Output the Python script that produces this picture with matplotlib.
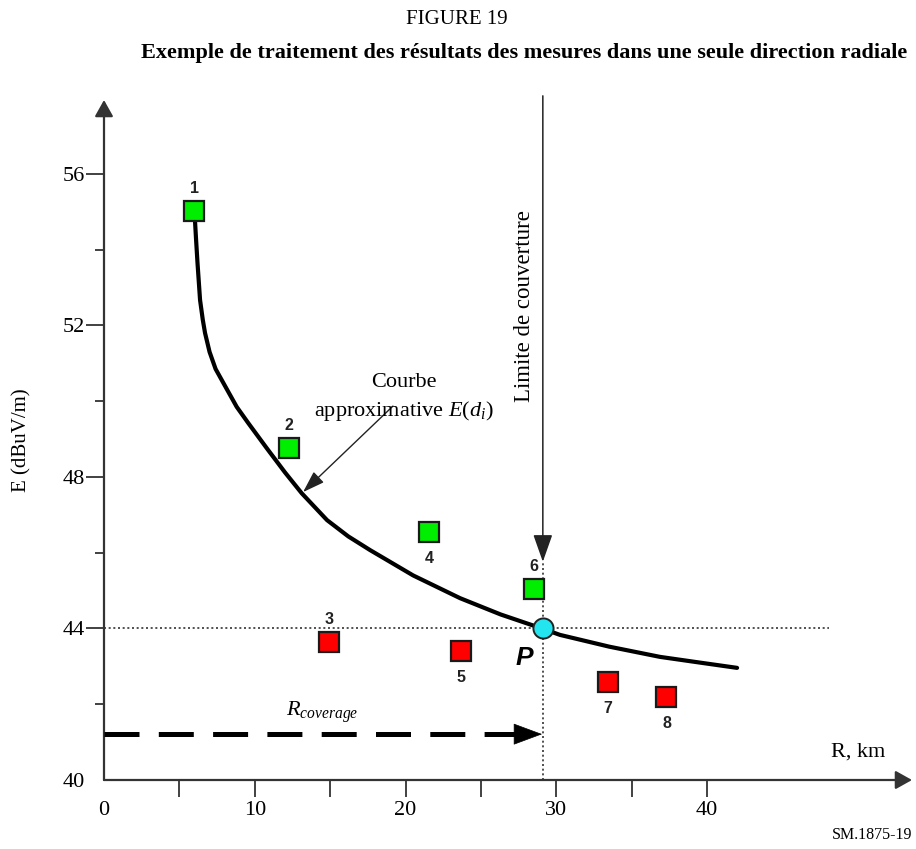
import matplotlib
matplotlib.use("Agg")
import matplotlib.pyplot as plt
from matplotlib.ticker import FixedLocator

plt.rcParams['font.family'] = ['Liberation Serif', 'DejaVu Serif']
plt.rcParams['mathtext.fontset'] = 'custom'
plt.rcParams['mathtext.rm'] = 'Liberation Serif'
plt.rcParams['mathtext.it'] = 'Liberation Serif:italic'

# ---- data ----
point_ids = ['1', '2', '3', '4', '5', '6', '7', '8']
point_R = [6.0, 12.25, 14.9, 21.55, 23.7, 28.5, 33.4, 37.3]
point_E = [55.02, 48.77, 43.64, 46.55, 43.41, 45.04, 42.59, 42.19]
point_ok = [True, True, False, True, False, True, False, False]
label_above = [True, True, True, False, False, True, False, False]

curve_R = [6.0, 6.1, 6.2, 6.37, 6.55, 6.7, 7.0, 7.4, 8.14, 8.8, 9.57, 10.79, 12.0,
           13.11, 14.79, 16.2, 17.64, 20.5, 23.61, 26.3, 29.11, 30.24, 33.5,
           36.87, 39.5, 41.98]
curve_E = [55.0, 54.3, 53.65, 52.67, 52.15, 51.8, 51.3, 50.85, 50.32, 49.85, 49.42,
           48.76, 48.12, 47.57, 46.86, 46.43, 46.07, 45.4, 44.80, 44.37, 43.99,
           43.83, 43.52, 43.25, 43.1, 42.96]

P_R, P_E = 29.1, 44.0
R_coverage = 29.1
E_threshold = 44.0
x_ticks_major = [0, 10, 20, 30, 40]
x_ticks_minor = [5, 15, 25, 35]
y_ticks_major = [40, 44, 48, 52, 56]
y_ticks_minor = [42, 46, 50, 54]

# ---- figure ----
W, H = 916, 849
fig = plt.figure(figsize=(W / 100, H / 100), dpi=100)
ax = fig.add_axes([104 / W, (H - 780) / H, 808 / W, 680 / H])
ax.set_xlim(0, 53.58)
ax.set_ylim(40, 57.95)
for s in ax.spines.values():
    s.set_visible(False)

axis_col = '#333333'
# axes with arrows
ax.annotate('', xy=(53.58, 40), xytext=(0, 40), annotation_clip=False,
            arrowprops=dict(arrowstyle='-|>,head_length=0.5,head_width=0.28',
                            mutation_scale=20, lw=1.6, color=axis_col,
                            shrinkA=0, shrinkB=0))
ax.annotate('', xy=(0, 57.95), xytext=(0, 40), annotation_clip=False,
            arrowprops=dict(arrowstyle='-|>,head_length=0.5,head_width=0.28',
                            mutation_scale=20, lw=1.6, color=axis_col,
                            shrinkA=0, shrinkB=0))

# ticks
ax.xaxis.set_major_locator(FixedLocator(x_ticks_major))
ax.xaxis.set_minor_locator(FixedLocator(x_ticks_minor))
ax.yaxis.set_major_locator(FixedLocator(y_ticks_major))
ax.yaxis.set_minor_locator(FixedLocator(y_ticks_minor))
ax.set_xticklabels([str(v) for v in x_ticks_major])
ax.set_yticklabels([str(v) for v in y_ticks_major])
ax.tick_params(axis='x', which='both', direction='out', length=12, width=1.3,
               color=axis_col, labelsize=16, pad=3)
ax.tick_params(axis='y', which='major', direction='out', length=13, width=1.3,
               color=axis_col, labelsize=16, pad=1)
ax.tick_params(axis='y', which='minor', direction='out', length=6.5, width=1.3,
               color=axis_col)
ax.xaxis.get_major_ticks()[0].tick1line.set_visible(False)
ax.yaxis.get_major_ticks()[0].tick1line.set_visible(False)

ax.set_ylabel('E (dBuV/m)', fontsize=15, labelpad=22)

# threshold dotted lines
ax.plot([0, 48.1], [E_threshold, E_threshold], ls=(0, (1.2, 1.6)), lw=1.2,
        color='#333333', zorder=2)
ax.plot([R_coverage, R_coverage], [40, 45.76], ls=(0, (1.2, 1.6)), lw=1.2,
        color='#333333', zorder=2)

# coverage limit arrow
ax.annotate('', xy=(R_coverage, 45.76), xytext=(R_coverage, 58.06),
            annotation_clip=False,
            arrowprops=dict(arrowstyle='-|>,head_length=0.85,head_width=0.3',
                            mutation_scale=20, lw=1.1, color='#222222',
                            shrinkA=0, shrinkB=0))
ax.text(27.9, 52.5, 'Limite de couverture', rotation=90, ha='center',
        va='center', fontsize=16.5)

# approximation curve
ax.plot(curve_R, curve_E, color='black', lw=3.0, solid_capstyle='round',
        solid_joinstyle='round', zorder=3)

# R coverage dashed arrow
ax.plot([0, 27.25], [41.21, 41.21], color='black', lw=3.6,
        dashes=(7.0, 3.86), dash_capstyle='butt', zorder=3)
ax.annotate('', xy=(R_coverage - 0.05, 41.21), xytext=(27.0, 41.21),
            arrowprops=dict(arrowstyle='-|>,head_length=0.97,head_width=0.36',
                            mutation_scale=20, lw=0.5, color='black',
                            shrinkA=0, shrinkB=0), zorder=3)
ax.text(14.5, 41.8, r'$R_{coverage}$', ha='center', va='center', fontsize=16)

# measurement points
for r, e, ok, lab, above in zip(point_R, point_E, point_ok, point_ids, label_above):
    ax.plot([r], [e], marker='s', ms=13.7, mfc='#00ee00' if ok else '#ff0000',
            mec='#1a1a1a', mew=1.6, ls='none', zorder=5)
    ax.annotate(lab, xy=(r, e), xytext=(0, 16 if above else -19),
                textcoords='offset points', ha='center', va='center',
                fontsize=11.5, fontweight='bold', color='#222222',
                family=['Liberation Sans', 'DejaVu Sans'])

# point P
ax.plot([P_R], [P_E], marker='o', ms=14.5, mfc='#22e5f0', mec='#222222', mew=1.4,
        ls='none', zorder=6)
ax.text(27.9, 43.22, 'P', ha='center', va='center', fontsize=19,
        fontweight='bold', fontstyle='italic',
        family=['Liberation Sans', 'DejaVu Sans'])

# curve annotation
ax.annotate('', xy=(13.2, 47.6), xytext=(19.16, 49.87),
            arrowprops=dict(arrowstyle='-|>,head_length=0.9,head_width=0.3',
                            mutation_scale=15, lw=1.0, color='#222222',
                            shrinkA=0, shrinkB=0))
ax.text(19.9, 50.5, 'Courbe', ha='center', va='center', fontsize=16)
ax.text(19.9, 49.75, r'approximative $E$($d_i$)', ha='center', va='center',
        fontsize=16)

# labels outside axes
fig.text(858 / W, 1 - 752 / H, 'R, km', ha='center', va='center', fontsize=16)
fig.text(912 / W, 1 - 835 / H, 'SM.1875-19', ha='right', va='center', fontsize=11.5)
fig.text(457 / W, 1 - 19 / H, 'FIGURE 19', ha='center', va='center', fontsize=15)
fig.text(907 / W, 1 - 53 / H,
         'Exemple de traitement des résultats des mesures dans une seule direction radiale',
         ha='right', va='center', fontsize=16, fontweight='bold')

fig.savefig('out.png', dpi=100)
